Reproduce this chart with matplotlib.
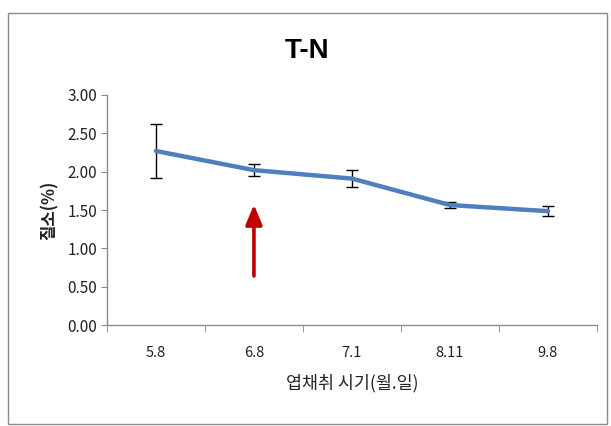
import matplotlib
matplotlib.use("Agg")
import matplotlib.pyplot as plt
from matplotlib.patches import Rectangle

plt.rcParams['font.family'] = ['Noto Sans CJK KR', 'DejaVu Sans']

# data
dates = ["5.8", "6.8", "7.1", "8.11", "9.8"]
tn_mean = [2.27, 2.02, 1.91, 1.565, 1.485]
tn_err = [0.35, 0.08, 0.11, 0.035, 0.065]
y_ticks = [0.0, 0.5, 1.0, 1.5, 2.0, 2.5, 3.0]
arrow_idx = 1
arrow_from, arrow_to = 0.64, 1.57

fig = plt.figure(figsize=(6.11, 4.26), dpi=100)
fig.patch.set_facecolor('white')

# chart area frame
fig.patches.append(Rectangle((8 / 611, 2 / 426), 599 / 611, 411 / 426,
                             transform=fig.transFigure, fill=False,
                             edgecolor='#8c8c8c', linewidth=1.0))

ax = fig.add_axes([0.175, 0.237, 0.802, 0.54])
x = list(range(len(dates)))

ax.errorbar(x, tn_mean, yerr=tn_err, fmt='none', ecolor='black',
            elinewidth=1.0, capsize=4, capthick=1.0, zorder=2)
ax.plot(x, tn_mean, color='#4f7fbd', linewidth=3.2, solid_capstyle='round', zorder=3)

ax.annotate('', xy=(x[arrow_idx], arrow_to), xytext=(x[arrow_idx], arrow_from),
            arrowprops=dict(arrowstyle='-|>,head_length=1.2,head_width=0.5',
                            color='#c00000', linewidth=2.6, shrinkA=0, shrinkB=0))

ax.set_xlim(-0.5, len(dates) - 0.5)
ax.set_ylim(0, 3.0)
ax.set_yticks(y_ticks)
ax.set_yticklabels([f"{v:.2f}" for v in y_ticks])
ax.set_xticks(x)
ax.set_xticklabels(dates)
ax.set_xticks([i - 0.5 for i in range(len(dates) + 1)], minor=True)

for s in ['top', 'right']:
    ax.spines[s].set_visible(False)
for s in ['left', 'bottom']:
    ax.spines[s].set_color('#8c8c8c')
    ax.spines[s].set_linewidth(1.0)

ax.tick_params(axis='x', which='major', length=0, pad=15, labelsize=10.5, labelcolor='#222222')
ax.tick_params(axis='x', which='minor', length=5, direction='out', color='#8c8c8c')
ax.tick_params(axis='y', length=4, direction='out', color='#8c8c8c', labelsize=11,
               labelcolor='#222222', pad=3)

ax.set_xlabel('엽채취 시기(월.일)', fontsize=12.5, labelpad=10, color='#222222')
ax.set_ylabel('질소(%)', fontsize=12, labelpad=6, color='#222222', fontweight='bold')

fig.text(0.503, 0.88, 'T-N', ha='center', va='center', fontsize=20,
         fontweight='bold', family=['Liberation Sans', 'DejaVu Sans'])

fig.savefig('out.png', dpi=100)
